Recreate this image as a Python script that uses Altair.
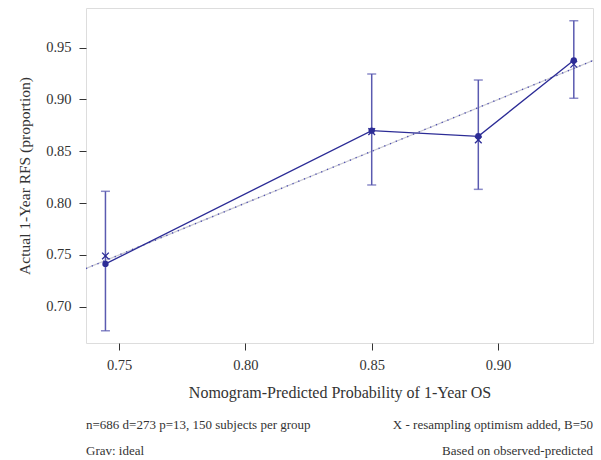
import altair as alt
import pandas as pd

predicted = [0.7446, 0.850, 0.8922, 0.930]
observed = [0.7413, 0.870, 0.8645, 0.9378]
corrected = [0.749, 0.869, 0.861, 0.934]
lower = [0.6768, 0.8175, 0.8133, 0.9012]
upper = [0.8114, 0.9246, 0.9188, 0.976]
ideal_x = [0.7369, 0.9376]
x_ticks = [0.75, 0.80, 0.85, 0.90]
y_ticks = [0.70, 0.75, 0.80, 0.85, 0.90, 0.95]
note_left_1 = "n=686 d=273 p=13, 150 subjects per group"
note_left_2 = "Grav: ideal"
note_right_1 = "X - resampling optimism added, B=50"
note_right_2 = "Based on observed-predicted"

FONT = "Liberation Serif"
NAVY = "#2c2c96"
BAR = "#5a5ab0"

df = pd.DataFrame({"pred": predicted, "obs": observed, "corr": corrected,
                   "lo": lower, "hi": upper})
ideal = pd.DataFrame({"pred": ideal_x, "obs": ideal_x})

xs = alt.Scale(domain=[0.7369, 0.9376], nice=False, zero=False)
ys = alt.Scale(domain=[0.665, 0.9883], nice=False, zero=False)

xax = alt.Axis(values=x_ticks, format=".2f", title="Nomogram-Predicted Probability of 1-Year OS",
               grid=False, domain=False, tickSize=7, tickColor="#333", labelPadding=8,
               labelFontSize=14.5, titleFontSize=16, titlePadding=13, labelColor="#333",
               titleColor="#333", labelFont=FONT, titleFont=FONT, titleFontWeight="normal")
yax = alt.Axis(values=y_ticks, format=".2f", title="Actual 1-Year RFS (proportion)",
               grid=False, domain=False, tickSize=7, tickColor="#333", labelPadding=8,
               labelFontSize=14.5, titleFontSize=15.5, titlePadding=13, labelColor="#333",
               titleColor="#333", labelFont=FONT, titleFont=FONT, titleFontWeight="normal")

base = alt.Chart(df)

ideal_grey = alt.Chart(ideal).mark_line(color="#c9c9d2", strokeWidth=1.2, clip=True).encode(
    x=alt.X("pred:Q", scale=xs, axis=xax), y=alt.Y("obs:Q", scale=ys, axis=yax))
ideal_dots = alt.Chart(ideal).mark_line(color="#4a4ab0", strokeWidth=1.4, strokeDash=[1.2, 5],
                                        clip=True).encode(
    x=alt.X("pred:Q", scale=xs), y=alt.Y("obs:Q", scale=ys))

line = base.mark_line(color=NAVY, strokeWidth=1.3).encode(
    x=alt.X("pred:Q", scale=xs), y=alt.Y("obs:Q", scale=ys))
rules = base.mark_rule(color=BAR, strokeWidth=1.5).encode(
    x=alt.X("pred:Q", scale=xs), y=alt.Y("lo:Q", scale=ys), y2="hi:Q")
cap_lo = base.mark_tick(color=BAR, orient="horizontal", size=9, thickness=1.5).encode(
    x=alt.X("pred:Q", scale=xs), y=alt.Y("lo:Q", scale=ys))
cap_hi = base.mark_tick(color=BAR, orient="horizontal", size=9, thickness=1.5).encode(
    x=alt.X("pred:Q", scale=xs), y=alt.Y("hi:Q", scale=ys))
dots = base.mark_point(color=NAVY, filled=True, size=40, opacity=1).encode(
    x=alt.X("pred:Q", scale=xs), y=alt.Y("obs:Q", scale=ys))
xmarks = base.mark_point(shape="M-1,-1L1,1M-1,1L1,-1", color=NAVY, filled=False, size=45,
                         strokeWidth=1.3, opacity=1).encode(
    x=alt.X("pred:Q", scale=xs), y=alt.Y("corr:Q", scale=ys))


def note(txt, align, xpos, ypos):
    return alt.Chart(pd.DataFrame({"t": [txt]})).mark_text(
        align=align, baseline="middle", font=FONT, fontSize=13, color="#333").encode(
        text="t:N", x=alt.value(xpos), y=alt.value(ypos))


notes = [note(note_left_1, "left", 0, 417), note(note_left_2, "left", 0, 443),
         note(note_right_1, "right", 507, 417), note(note_right_2, "right", 507, 443)]

chart = alt.layer(ideal_grey, ideal_dots, line, rules, cap_lo, cap_hi, dots, xmarks,
                  *notes).properties(
    width=507, height=335, autosize=alt.AutoSizeParams(type="none"),
    padding={"left": 86, "top": 8, "right": 8, "bottom": 117},
).configure_view(stroke="#333", strokeWidth=1.6).configure(background="white")

chart.save("out.html", embed_options={"renderer": "svg", "actions": False})
